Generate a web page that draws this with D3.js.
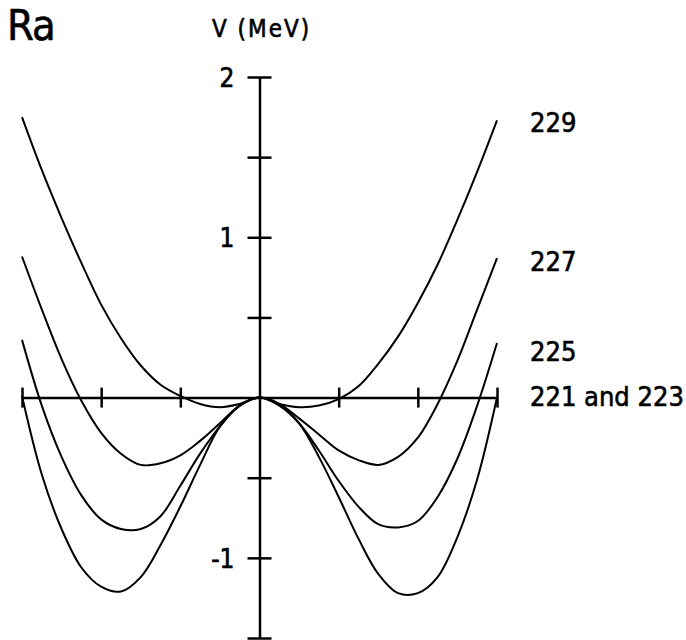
<!DOCTYPE html>
<html>
<head>
<meta charset="utf-8">
<script src="https://cdn.jsdelivr.net/npm/d3@7"></script>
<style>
  body { margin: 0; background: #fff; }
  svg text { font-family: "DejaVu Sans Condensed", "DejaVu Sans", sans-serif; fill: #000; stroke: #000; stroke-width: 0.6px; }
</style>
</head>
<body>
<div id="chart"></div>
<script>
// deformation coordinate (arbitrary units, ticks at +-1, +-2, +-3)
var xs = [-3, -2.75, -2.5, -2.25, -2, -1.75, -1.5, -1.25, -1, -0.75, -0.5, -0.25,
          0, 0.25, 0.5, 0.75, 1, 1.25, 1.5, 1.75, 2, 2.25, 2.5, 2.75, 3];

// V (MeV) for each isotope
var v229 = [1.75, 1.42, 1.12, 0.84, 0.58, 0.37, 0.20, 0.08, 0.01, -0.04, -0.06, -0.04,
            0, -0.04, -0.06, -0.05, -0.01, 0.07, 0.21, 0.38, 0.59, 0.83, 1.11, 1.41, 1.73];
var v227 = [0.88, 0.55, 0.24, -0.02, -0.22, -0.35, -0.42, -0.41, -0.36, -0.27, -0.16, -0.05,
            0, -0.04, -0.13, -0.23, -0.33, -0.39, -0.42, -0.37, -0.25, -0.04, 0.23, 0.55, 0.87];
var v225 = [0.36, -0.05, -0.37, -0.61, -0.76, -0.82, -0.82, -0.74, -0.55, -0.35, -0.18, -0.05,
            0, -0.05, -0.16, -0.33, -0.52, -0.68, -0.79, -0.81, -0.77, -0.62, -0.38, -0.05, 0.34];
var v221 = [0.01, -0.48, -0.82, -1.06, -1.18, -1.21, -1.12, -0.92, -0.68, -0.42, -0.18, -0.05,
            0, -0.04, -0.16, -0.37, -0.62, -0.88, -1.10, -1.22, -1.22, -1.12, -0.87, -0.51, 0.0];

var seriesNames = ["229", "227", "225", "221 and 223"];
var seriesValues = [v229, v227, v225, v221];
// where each name sits, in MeV
var labelAt = [1.72, 0.855, 0.29, 0.01];

var xTicks = [-3, -2, -1, 1, 2, 3];
var yTicks = [-1.5, -1, -0.5, 0.5, 1, 1.5, 2];
var yLabels = {"2": "2", "1": "1", "-1": "-1"};

var width = 686, height = 640;

var svg = d3.select("#chart").append("svg")
    .attr("width", width)
    .attr("height", height);

var x = d3.scaleLinear().domain([-3, 3]).range([22, 497]);
var y = d3.scaleLinear().domain([-1.5, 2]).range([638, 77]);

// x axis through V = 0, ticks crossing the line
var xAxis = d3.axisBottom(x)
    .tickValues(xTicks)
    .tickSize(10)
    .tickSizeOuter(0)
    .tickFormat("");

var gx = svg.append("g")
    .attr("transform", "translate(0," + y(0) + ")")
    .call(xAxis);
gx.selectAll(".tick line").attr("y1", -10);

// y axis through x = 0
var yAxis = d3.axisLeft(y)
    .tickValues(yTicks)
    .tickSize(11)
    .tickSizeOuter(0)
    .tickPadding(14)
    .tickFormat(function(d) { return yLabels[String(d)] || ""; });

var gy = svg.append("g")
    .attr("transform", "translate(" + x(0) + ",0)")
    .call(yAxis);
gy.selectAll(".tick line").attr("x2", -12).attr("x1", 12);
gy.selectAll(".tick text")
    .style("font-size", "26px")
    .attr("dy", "0.36em");

svg.selectAll(".domain, .tick line")
    .attr("stroke", "#000")
    .attr("stroke-width", 2.5);

var line = d3.line()
    .x(function(d) { return x(d[0]); })
    .y(function(d) { return y(d[1]); })
    .curve(d3.curveCatmullRom.alpha(0.5));

svg.selectAll(".curve")
    .data(seriesValues)
    .enter().append("path")
    .attr("class", "curve")
    .attr("fill", "none")
    .attr("stroke", "#000")
    .attr("stroke-width", 2)
    .attr("d", function(vals) {
        return line(vals.map(function(v, i) { return [xs[i], v]; }));
    });

svg.selectAll(".name")
    .data(seriesNames)
    .enter().append("text")
    .attr("class", "name")
    .attr("x", 530)
    .attr("y", function(d, i) { return y(labelAt[i]) + 10; })
    .style("font-size", "27px")
    .text(function(d) { return d; });

svg.append("text")
    .attr("x", 7)
    .attr("y", 40)
    .style("font-size", "43px")
    .style("letter-spacing", "-1px")
    .text("Ra");

svg.append("text")
    .attr("x", 212)
    .attr("y", 37)
    .style("font-size", "24px")
    .style("letter-spacing", "2px")
    .text("V (MeV)");
</script>
</body>
</html>
